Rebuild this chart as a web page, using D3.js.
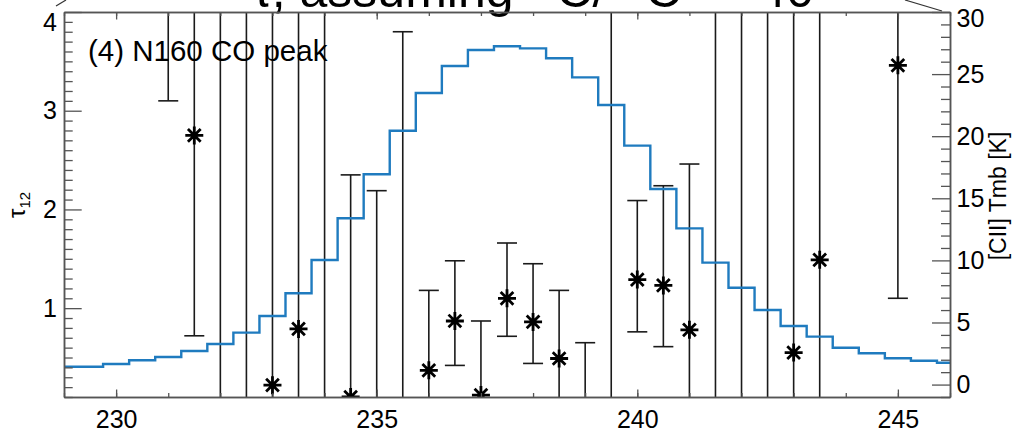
<!DOCTYPE html>
<html>
<head>
<meta charset="utf-8">
<script src="https://cdn.jsdelivr.net/npm/d3@7"></script>
<style>
  body { margin: 0; background: #fff; }
  svg { display: block; font-family: "Liberation Sans", Arial, Helvetica, sans-serif; }
</style>
</head>
<body>
<div id="chart_div"></div>
<script>
// tau_12 with asymmetric errors per channel (km/s)
const velocity = [231.0, 231.5, 232.0, 232.5, 233.0, 233.5, 234.0, 234.5, 235.0, 235.5, 236.0, 236.5, 237.0, 237.5, 238.0, 238.5, 239.0, 239.5, 240.0, 240.5, 241.0, 241.5, 242.0, 242.5, 243.0, 243.5, 245.0];
const tau      = [4.6, 2.75, -1, -1, 0.22, 0.79, -1, 0.10, -0.3, -0.4, 0.37, 0.87, 0.12, 1.10, 0.86, 0.49, -0.2, -1, 1.29, 1.23, 0.78, -1, -1, -1, 0.55, 1.49, 3.46];
const tauLow   = [3.10, 0.72, -3, -3, -3, -3, -3, -3, -2, -2, -1, 0.42, -1, 0.715, 0.44, -1, -1, -3, 0.76, 0.61, -2, -3, -3, -3, -3, -3, 1.10];
const tauHigh  = [8, 8, 6, 6, 6, 6, 6, 2.35, 2.19, 3.80, 1.18, 1.48, 0.87, 1.66, 1.45, 1.18, 0.65, 6, 2.09, 2.24, 2.46, 6, 6, 6, 6, 6, 8];

// [CII] spectrum
const ciiVel = [229.0, 229.5, 230.0, 230.5, 231.0, 231.5, 232.0, 232.5, 233.0, 233.5, 234.0, 234.5, 235.0, 235.5, 236.0, 236.5, 237.0, 237.5, 238.0, 238.5, 239.0, 239.5, 240.0, 240.5, 241.0, 241.5, 242.0, 242.5, 243.0, 243.5, 244.0, 244.5, 245.0, 245.5, 246.0];
const ciiTmb = [1.44, 1.44, 1.66, 1.96, 2.22, 2.70, 3.27, 4.18, 5.52, 7.35, 10.03, 13.39, 16.93, 20.44, 23.48, 25.65, 26.94, 27.24, 27.07, 26.27, 24.74, 22.51, 19.24, 15.75, 12.58, 9.82, 7.80, 6.00, 4.72, 3.86, 2.97, 2.52, 2.12, 1.92, 1.76];

const xMajor = [230, 235, 240, 245];
const xMinor = [229, 230, 231, 232, 233, 234, 235, 236, 237, 238, 239, 240, 241, 242, 243, 244, 245, 246];
const tauMajor = [1, 2, 3, 4];
const tauMinor = [0.1, 0.2, 0.3, 0.4, 0.5, 0.6, 0.7, 0.8, 0.9, 1.1, 1.2, 1.3, 1.4, 1.5, 1.6, 1.7, 1.8, 1.9, 2.1, 2.2, 2.3, 2.4, 2.5, 2.6, 2.7, 2.8, 2.9, 3.1, 3.2, 3.3, 3.4, 3.5, 3.6, 3.7, 3.8, 3.9];
const tmbMajor = [0, 5, 10, 15, 20, 25, 30];
const tmbMinor = [-1, 1, 2, 3, 4, 6, 7, 8, 9, 11, 12, 13, 14, 16, 17, 18, 19, 21, 22, 23, 24, 26, 27, 28, 29];

const width = 1013;
const height = 434;
const mLeft = 64, mRight = 950, mTop = 12, mBottom = 397;
const axisColor = "#555";

const svg = d3.select("#chart_div")
    .append("svg")
    .attr("width", width)
    .attr("height", height);

const x = d3.scaleLinear().domain([229, 246]).range([mLeft, mRight]);
const yTau = d3.scaleLinear().domain([0.1, 4.0]).range([mBottom, mTop]);
const yTmb = d3.scaleLinear().domain([-1, 30]).range([mBottom, mTop]);

svg.append("defs").append("clipPath")
    .attr("id", "plotclip")
    .append("rect")
    .attr("x", mLeft).attr("y", mTop)
    .attr("width", mRight - mLeft).attr("height", mBottom - mTop);

// title, mostly cut off by the top of the page
const title = svg.append("text")
    .attr("x", 252)
    .attr("y", 7)
    .attr("font-size", 50)
    .attr("fill", "#000");
title.append("tspan").text("τ, assuming ");
title.append("tspan").attr("font-size", 26).attr("dy", -24).text("12");
title.append("tspan").attr("dy", 24).text("C/");
title.append("tspan").attr("font-size", 26).attr("dy", -24).text("13");
title.append("tspan").attr("dx", 10).attr("dy", 24).text("C");
title.append("tspan").attr("dx", 20).text(" = 40");

// connector lines from panel above
svg.append("line").attr("x1", 56).attr("y1", 6).attr("x2", 66).attr("y2", 0)
    .attr("stroke", "#333").attr("stroke-width", 1.2);
svg.append("line").attr("x1", 905).attr("y1", 0).attr("x2", 942).attr("y2", 11)
    .attr("stroke", "#333").attr("stroke-width", 1.2);

const plot = svg.append("g").attr("clip-path", "url(#plotclip)");

// error bars
const bars = plot.append("g")
    .attr("stroke", "#1a1a1a")
    .attr("stroke-width", 1.6)
    .attr("fill", "none");

velocity.forEach((v, i) => {
    const cx = x(v);
    bars.append("line")
        .attr("x1", cx).attr("x2", cx)
        .attr("y1", yTau(tauLow[i])).attr("y2", yTau(tauHigh[i]));
    [tauLow[i], tauHigh[i]].forEach(e => {
        bars.append("line")
            .attr("x1", cx - 10).attr("x2", cx + 10)
            .attr("y1", yTau(e)).attr("y2", yTau(e));
    });
});

// asterisks
const star = (r) => {
    const d = r * Math.SQRT1_2;
    return `M0,${-r}V${r}M${-r},0H${r}M${-d},${-d}L${d},${d}M${-d},${d}L${d},${-d}`;
};
plot.append("g")
    .selectAll("path")
    .data(velocity.map((v, i) => [v, tau[i]]))
    .enter()
    .append("path")
    .attr("transform", d => `translate(${x(d[0])},${yTau(d[1])})`)
    .attr("d", star(9))
    .attr("stroke", "#000")
    .attr("stroke-width", 2.8)
    .attr("fill", "none");

// [CII] step line
const line = d3.line()
    .x((d, i) => x(ciiVel[i]))
    .y(d => yTmb(d))
    .curve(d3.curveStep);

plot.append("path")
    .datum(ciiTmb)
    .attr("d", line)
    .attr("fill", "none")
    .attr("stroke", "#1f7bbf")
    .attr("stroke-width", 2.4);

// axes
const styleAxis = (g) => {
    g.select(".domain").attr("stroke", axisColor).attr("stroke-width", 1.5);
    g.selectAll(".tick line").attr("stroke", axisColor).attr("stroke-width", 1.3);
    g.selectAll(".tick text").attr("fill", "#000").attr("font-size", 25)
        .attr("font-family", "Liberation Sans, Arial, Helvetica, sans-serif");
};

svg.append("g")
    .attr("transform", `translate(0,${mBottom})`)
    .call(d3.axisBottom(x).tickValues(xMinor).tickSize(-4).tickSizeOuter(0).tickFormat(""))
    .call(styleAxis);
svg.append("g")
    .attr("transform", `translate(0,${mBottom})`)
    .call(d3.axisBottom(x).tickValues(xMajor).tickSize(-7.5).tickSizeOuter(0).tickPadding(13).tickFormat(d3.format("d")))
    .call(styleAxis);

svg.append("g")
    .attr("transform", `translate(0,${mTop})`)
    .call(d3.axisTop(x).tickValues(xMinor).tickSize(-4).tickSizeOuter(0).tickFormat(""))
    .call(styleAxis);
svg.append("g")
    .attr("transform", `translate(0,${mTop})`)
    .call(d3.axisTop(x).tickValues(xMajor).tickSize(-7.5).tickSizeOuter(0).tickFormat(""))
    .call(styleAxis);

svg.append("g")
    .attr("transform", `translate(${mLeft},0)`)
    .call(d3.axisLeft(yTau).tickValues(tauMinor).tickSize(-8.7).tickSizeOuter(0).tickFormat(""))
    .call(styleAxis);
const leftAxis = svg.append("g")
    .attr("transform", `translate(${mLeft},0)`)
    .call(d3.axisLeft(yTau).tickValues(tauMajor).tickSize(-17.7).tickSizeOuter(0).tickPadding(7).tickFormat(d3.format("d")))
    .call(styleAxis);
leftAxis.selectAll(".tick text").filter(d => d === 4).attr("dy", "0.72em");

svg.append("g")
    .attr("transform", `translate(${mRight},0)`)
    .call(d3.axisRight(yTmb).tickValues(tmbMinor).tickSize(-9).tickSizeOuter(0).tickFormat(""))
    .call(styleAxis);
const rightAxis = svg.append("g")
    .attr("transform", `translate(${mRight},0)`)
    .call(d3.axisRight(yTmb).tickValues(tmbMajor).tickSize(-18).tickSizeOuter(0).tickPadding(6.5).tickFormat(d3.format("d")))
    .call(styleAxis);
rightAxis.selectAll(".tick text").filter(d => d === 30).attr("dy", "0.59em");

// axis titles
const yLab = svg.append("text")
    .attr("transform", "translate(25,205) rotate(-90)")
    .attr("text-anchor", "middle")
    .attr("fill", "#000");
yLab.append("tspan").attr("font-size", 24).text("τ");
yLab.append("tspan").attr("font-size", 15).attr("dy", 5).text("12");

svg.append("text")
    .attr("transform", "translate(1006,196) rotate(-90)")
    .attr("text-anchor", "middle")
    .attr("font-size", 23)
    .attr("fill", "#000")
    .text("[CII] Tmb [K]");

// panel label
svg.append("text")
    .attr("x", 88)
    .attr("y", 61)
    .attr("font-size", 29.5)
    .attr("fill", "#000")
    .text("(4) N160 CO peak");
</script>
</body>
</html>
